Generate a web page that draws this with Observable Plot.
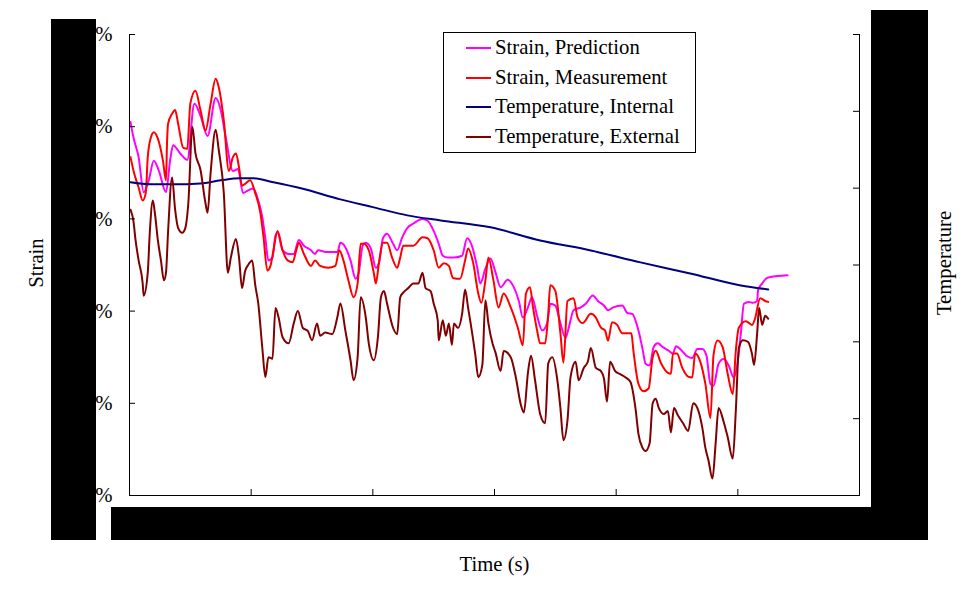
<!DOCTYPE html>
<html><head><meta charset="utf-8">
<script src="https://cdn.jsdelivr.net/npm/d3@7"></script>
<script src="https://cdn.jsdelivr.net/npm/@observablehq/plot@0.6"></script>
<style>
body{margin:0;background:#fff;}
#wrap{position:relative;width:977px;height:600px;font-family:"Liberation Serif","Times New Roman",serif;}
#wrap svg{position:absolute;left:0;top:0;}
.blk{position:absolute;background:#000;}
#legend{position:absolute;left:443px;top:32px;width:251px;border:1px solid #000;background:#fff;}
.row{height:29.7px;line-height:29.7px;font-size:20.7px;position:relative;white-space:nowrap;color:#000;}
.sw{position:absolute;left:22px;top:14px;width:25px;height:2px;}
.lbl{position:absolute;left:51px;top:0;}
</style></head><body>
<div id="wrap"></div>
<script>
// Axis ticks (time in s, strain in microstrain shown as %, temperature in °C)
const timeTicks = [0, 120, 240, 360, 480, 600, 720];
const strainTicks = [0, 100, 200, 300, 400, 500];
const tempTicks = [0, 5, 10, 15, 20, 25, 30];

const seriesNames = ["Strain, Prediction", "Strain, Measurement", "Temperature, Internal", "Temperature, External"];
const seriesColors = ["#FF00FF", "#FF0000", "#000080", "#800000"];

// Strain, Prediction
const predTime = [1,4,9,14,19,24,29,36,40,43,50,57,64,70,77,85,90,95,102,107,112,117,122,127,131,134,137,141,144,146,151,157,162,167,172,179,183,186,195,205,208,213,218,223,226,230,233,238,243,246,250,254,260,264,269,274,280,289,294,300,305,309,314,320,328,333,338,343,346,351,356,361,366,373,379,384,388,393,397,402,407,412,415,420,425,430,433,438,445,450,457,462,468,472,477,486,491,496,499,502,506,509,513,517,521,526,532,536,539,543,550,555,560,565,569,573,576,581,586,591,596,600,603,606,611,615,619,620,624,629,639,649];
const predStrain = [405,388,367,329,342,363,352,329,363,380,371,364,425,412,390,431,418,388,352,354,328,331,333,320,302,279,255,258,282,285,266,262,262,277,271,266,262,266,264,264,274,269,255,235,241,271,274,268,247,252,279,284,273,266,280,290,295,300,298,287,273,260,258,258,260,279,270,247,230,246,257,242,226,234,226,211,193,204,215,195,179,187,208,206,187,171,181,201,204,208,217,211,206,201,204,206,198,197,190,179,159,143,141,161,165,161,157,154,162,159,151,149,159,159,152,121,119,143,148,141,128,146,176,208,210,209,211,223,230,236,238,239];

// Strain, Measurement
const measTime = [1,4,9,13,16,18,21,24,28,33,36,37,38,42,45,48,53,57,60,65,70,75,80,85,88,93,98,102,105,108,111,114,119,124,129,132,136,139,142,146,151,156,161,164,167,172,179,183,188,196,203,207,211,216,221,225,228,231,236,241,243,246,250,254,259,264,267,270,280,289,294,300,305,310,315,319,326,331,334,339,344,347,351,354,359,364,369,376,383,388,391,395,398,402,405,410,413,415,420,425,428,432,438,442,447,455,460,465,469,472,476,481,486,495,497,502,507,512,516,519,524,531,534,536,540,545,551,555,558,563,568,573,576,580,585,590,595,598,601,608,614,617,622,627,630];
const measStrain = [367,352,334,320,328,367,388,394,387,363,342,382,403,414,418,403,377,376,425,439,418,396,425,452,443,407,352,367,371,356,336,338,342,328,307,282,244,249,266,287,266,255,253,264,274,262,249,255,249,247,249,266,255,233,215,230,273,273,266,241,230,252,274,274,258,247,258,271,271,280,279,266,247,252,249,236,235,255,268,252,219,209,233,258,233,204,219,204,182,163,219,226,204,179,165,165,197,228,222,176,144,211,214,193,187,197,193,182,179,168,188,185,176,176,157,121,113,116,150,157,144,133,132,154,154,139,129,128,154,145,121,84,152,168,161,132,110,157,182,189,185,192,214,211,210];

// Temperature, Internal
const intTime = [1,21,43,70,90,109,122,142,169,208,241,274,307,356,405,455,504,553,603,630];
const intTemp = [20.38,20.25,20.25,20.31,20.51,20.64,20.64,20.38,19.99,19.27,18.75,18.23,17.90,17.45,16.60,15.95,15.17,14.45,13.67,13.41];

// Temperature, External
const extTime = [1,4,6,9,13,14,18,20,23,25,28,31,34,36,38,42,45,48,52,55,58,62,65,70,75,77,80,85,88,93,97,100,105,108,111,114,117,121,124,127,131,134,137,141,144,147,151,157,162,166,171,176,180,185,188,193,200,205,208,213,218,221,225,228,233,236,241,245,248,251,254,260,264,267,270,275,280,285,289,292,297,300,304,305,309,312,315,318,320,324,328,331,334,336,341,344,348,351,354,358,361,366,369,376,381,386,389,393,396,400,405,410,413,417,422,425,428,432,435,440,443,448,452,455,460,465,468,471,474,479,484,489,494,499,502,506,509,513,516,519,522,527,531,534,537,541,546,551,556,560,565,568,571,575,578,581,586,590,595,598,601,605,610,614,616,619,621,624,627,630];
const extTemp = [18.6,17.8,16.6,15.3,13.8,13.0,14.5,17.1,19.2,18.4,16.6,15.3,14.0,14.5,17.1,20.7,18.6,17.4,17.1,17.4,19.0,24.0,22.3,21.2,19.0,18.4,21.0,23.8,22.5,19.7,14.5,15.5,16.7,15.5,13.5,14.6,15.0,15.3,13.7,12.5,9.6,7.7,9.0,8.9,12.2,11.6,10.3,9.9,11.2,12.0,10.9,10.7,10.1,11.2,10.4,10.6,10.5,11.6,12.5,10.7,8.8,7.5,9.0,12.9,11.6,9.9,8.8,10.3,12.9,13.3,12.5,10.9,10.5,12.9,13.2,13.5,13.8,13.8,14.5,13.5,13.3,12.5,11.4,10.1,11.4,10.4,11.2,9.8,11.2,10.9,11.8,13.4,12.2,11.4,9.2,7.7,8.5,12.7,11.2,9.9,9.3,8.1,9.4,9.0,7.7,5.9,5.4,8.0,9.1,7.5,5.3,4.7,8.6,9.0,7.5,5.7,3.6,4.9,7.7,8.7,7.5,8.3,8.7,9.6,8.3,8.1,7.6,6.1,8.7,8.1,7.9,7.7,7.4,5.7,4.0,3.1,2.9,3.4,6.0,6.3,5.7,5.3,5.5,4.1,5.7,5.2,4.7,4.2,6.0,5.7,4.4,3.1,2.3,1.1,3.3,5.7,4.8,3.8,2.4,5.5,9.6,10.1,10.0,9.2,8.5,10.5,12.2,11.1,11.7,11.5];

const strainMax = 500, tempMax = 30, timeMax = 720;
const toY = t => t * strainMax / tempMax; // temperature placed on the secondary (right) axis
const serif = "'Liberation Serif','Times New Roman',serif";
const fs = 20.7;

const chart = Plot.plot({
  width: 977, height: 600,
  marginLeft: 129, marginRight: 118, marginTop: 34, marginBottom: 105,
  style: {fontFamily: serif, fontSize: fs + "px", color: "#000", background: "#fff"},
  x: {domain: [0, timeMax], axis: null},
  y: {domain: [0, strainMax], axis: null},
  marks: [
    Plot.line(predTime, {x: predTime, y: predStrain, stroke: seriesColors[0], strokeWidth: 2, curve: "monotone-x"}),
    Plot.line(measTime, {x: measTime, y: measStrain, stroke: seriesColors[1], strokeWidth: 2, curve: "monotone-x"}),
    Plot.line(intTime, {x: intTime, y: intTemp.map(toY), stroke: seriesColors[2], strokeWidth: 2, curve: "monotone-x"}),
    Plot.line(extTime, {x: extTime, y: extTemp.map(toY), stroke: seriesColors[3], strokeWidth: 2, curve: "monotone-x"}),
    Plot.ruleX([0, timeMax], {stroke: "#000", strokeWidth: 1}),
    Plot.ruleY([0], {stroke: "#000", strokeWidth: 1}),
    Plot.axisY(strainTicks, {anchor: "left", tickSize: 6, dx: 6, tickFormat: () => "", label: null}),
    Plot.axisY(strainTicks, {anchor: "left", tickSize: 0, tickPadding: 17, fontSize: fs, tickFormat: d => (d / 10000).toFixed(2) + "%", label: null}),
    Plot.axisY(tempTicks.map(toY), {anchor: "right", tickSize: 7, dx: -7, tickFormat: () => "", label: null}),
    Plot.axisY(tempTicks.map(toY), {anchor: "right", tickSize: 0, tickPadding: 17, fontSize: fs, tickFormat: d => String(Math.round(d * tempMax / strainMax)), label: null}),
    Plot.axisX(timeTicks, {anchor: "bottom", tickSize: 6, dy: -6, tickFormat: () => "", label: null}),
    Plot.axisX(timeTicks, {anchor: "bottom", tickSize: 0, tickPadding: 14, fontSize: fs, label: null}),
    Plot.text(["Strain"], {text: d => d, frameAnchor: "left", textAnchor: "middle", dx: -93, dy: -2, rotate: -90, fontSize: fs}),
    Plot.text(["Temperature"], {text: d => d, frameAnchor: "right", textAnchor: "middle", dx: 85, dy: -2, rotate: -90, fontSize: fs}),
    Plot.text(["Time (s)"], {text: d => d, frameAnchor: "bottom", textAnchor: "middle", dy: 75, fontSize: fs})
  ]
});

const wrap = document.getElementById("wrap");
wrap.appendChild(chart);

// redaction blocks covering the tick values
[[51, 19, 45, 521], [111, 507, 817, 33], [871, 10, 57, 530]].forEach(([l, t, w, h]) => {
  const b = document.createElement("div");
  b.className = "blk";
  b.style.left = l + "px"; b.style.top = t + "px"; b.style.width = w + "px"; b.style.height = h + "px";
  wrap.appendChild(b);
});

// legend
const legend = document.createElement("div");
legend.id = "legend";
seriesNames.forEach((name, i) => {
  const row = document.createElement("div");
  row.className = "row";
  const sw = document.createElement("div");
  sw.className = "sw";
  sw.style.background = seriesColors[i];
  const lbl = document.createElement("span");
  lbl.className = "lbl";
  lbl.textContent = name;
  row.appendChild(sw); row.appendChild(lbl);
  legend.appendChild(row);
});
wrap.appendChild(legend);
</script></body></html>
